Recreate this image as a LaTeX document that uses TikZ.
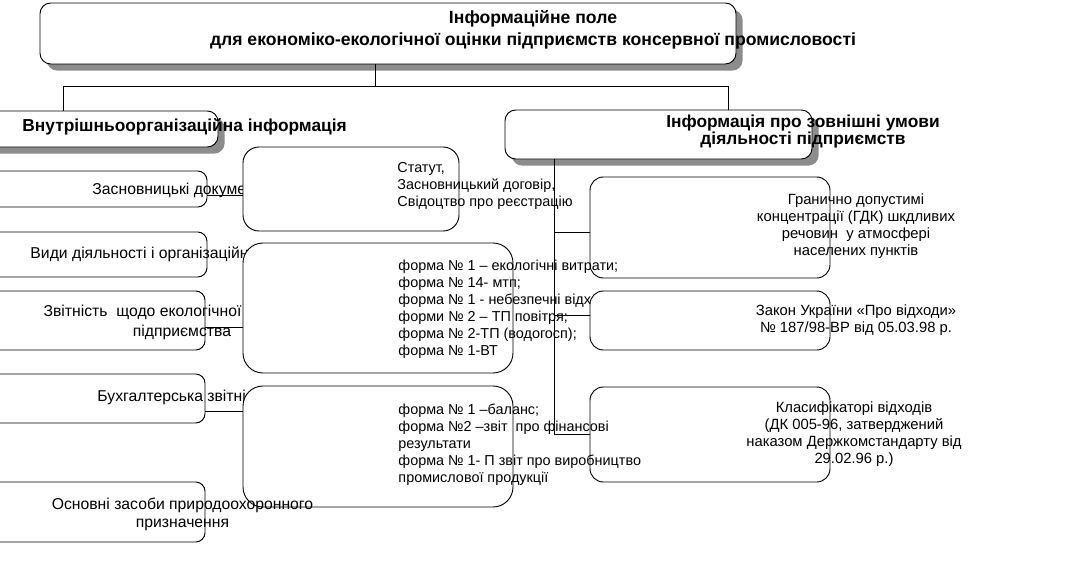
\documentclass[tikz,border=0pt]{standalone}
\usepackage{fontspec}
\setmainfont{Liberation Sans}
\usetikzlibrary{fit,shadows}
\begin{document}
\begin{tikzpicture}[x=0.75pt,y=-0.75pt,
  line width=0.7pt,
  box/.style={draw, fill=white, inner sep=0pt, outer sep=0pt},
  lbox/.style={box, rounded corners=7pt},
  mbox/.style={box, rounded corners=12pt},
  rbox/.style={box, rounded corners=10pt},
  hbox/.style={box, rounded corners=8pt,
     drop shadow={shadow xshift=5pt, shadow yshift=-5pt, fill=black!45, opacity=1}},
  body/.style={inner sep=0pt, font=\fontsize{10.8}{12.75}\selectfont},
  lbody/.style={inner sep=0pt, font=\fontsize{11.8}{13.5}\selectfont},
  rbody/.style={inner sep=0pt, font=\fontsize{11.1}{12.75}\selectfont},
  head/.style={inner sep=0pt, font=\fontsize{13}{12.75}\selectfont\bfseries},
  conn/.style={draw, line width=0.7pt}
]
\useasboundingbox (0,0) rectangle (1085,567);
\clip (0,0) rectangle (1085,567);

% left column boxes
\node[lbox, fit={(-30,171) (207,207)}] (zas) {};
\node[lbox, fit={(-30,232) (207,277)}] (vyd) {};
\node[lbox, fit={(-30,291) (205,350)}] (zvit) {};
\node[lbox, fit={(-30,374) (205,423)}] (buh) {};
\node[lbox, fit={(-30,482) (205,542)}] (osn) {};
\node[lbody, anchor=west] (tzas) at (92,190) {Засновницькі документи};
\node[lbody, anchor=west] (tvyd) at (30,254) {Види діяльності і організаційна структура};
\node[lbody, align=center] (tzvit) at (182,322.5) {Звітність\ \ щодо екологічної діяльності\\[1pt]підприємства};
\node[lbody, anchor=west] (tbuh) at (97,397) {Бухгалтерська звітність};

% middle boxes
\node[mbox, fit={(243,147) (459,231)}] (stat) {};
\node[mbox, rounded corners=15pt, fit={(243,243) (513,373)}] (forma) {};
\node[mbox, rounded corners=15pt, fit={(243,386) (513,507)}] (bal) {};
\node[lbody, align=center] (tosn) at (182.5,514) {Основні засоби природоохоронного\\[0pt]призначення};

% right boxes
\node[rbox, fit={(590,177) (830,278)}] (gdk) {};
\node[rbox, fit={(590,387) (830,482)}] (kls) {};

% middle texts
\node[body, anchor=west, align=left] (tstat) at (397,186) {Статут,\\Засновницький договір,\\Свідоцтво про реєстрацію};
\node[body, anchor=west, align=left] (tforma) at (398,309.5) {форма № 1 – екологічні витрати;\\форма № 14- мтп;\\форма № 1 - небезпечні відходи;\\форми № 2 – ТП повітря;\\форма № 2-ТП (водогосп);\\форма № 1-ВТ};
\node[body, anchor=west, align=left] (tbal) at (398,445) {форма № 1 –баланс;\\форма №2 –звіт\ \ про фінансові\\результати\\форма № 1- П звіт про виробництво\\промислової продукції};

% Zakon box on top
\node[rbox, fit={(590,291) (830,350)}] (zakon) {};

% right texts
\node[rbody, align=center] (tgdk) at (856,226) {Гранично допустимі\\концентрації (ГДК) шкдливих\\речовин\ \ у атмосфері\\населених пунктів};
\node[rbody, align=center] (tzakon) at (856,320.5) {Закон України «Про відходи»\\№ 187/98-ВР від 05.03.98 р.};
\node[rbody, align=center] (tkls) at (854,434) {Класифікаторі відходів\\(ДК 005-96, затверджений\\наказом Держкомстандарту від\\29.02.96 р.)};

% header boxes
\node[hbox, fit={(40,3) (736,64)}] (top) {};
\node[hbox, fit={(-30,111) (218,147)}] (inner) {};
\node[hbox, fit={(505,110) (812,159)}] (outer) {};
\node[head, align=center, font=\fontsize{13.2}{16.5}\selectfont\bfseries] (ttop) at (533,30) {Інформаційне поле\\для економіко-екологічної оцінки підприємств консервної промисловості};
\node[head, anchor=west] (tinner) at (22,127) {Внутрішньоорганізаційна інформація};
\node[head, align=center] (touter) at (803,131.5) {Інформація про зовнішні умови\\діяльності підприємств};

% top connectors
\coordinate (hub) at (375,86);
\coordinate (hl) at (63,86);
\coordinate (hr) at (728,86);
\draw[conn] (top.south -| hub) -- (hub);
\draw[conn] (hl) -- (hr);
\draw[conn] (hl) -- (hl |- inner.north);
\draw[conn] (hr) -- (hr |- outer.north);

% right connectors
\coordinate (vr) at (554,0);
\draw[conn] (outer.south -| vr) -- (vr |- kls.west) -- (kls.west);
\draw[conn] ([yshift=-3.4pt]gdk.west) -- ([yshift=-3.4pt]gdk.west -| vr);
\draw[conn] ([yshift=4.1pt]zakon.west) -- ([yshift=4.1pt]zakon.west -| vr);

% left connectors
\draw[conn] ([yshift=-4.5pt]zas.east) -- ([yshift=-4.5pt]zas.east -| stat.west);
\draw[conn] ([yshift=-4.9pt]zvit.east) -- ([yshift=-4.9pt]zvit.east -| forma.west);
\draw[conn] ([yshift=-9.4pt]buh.east) -- ([yshift=-9.4pt]buh.east -| bal.west);
\end{tikzpicture}
\end{document}
